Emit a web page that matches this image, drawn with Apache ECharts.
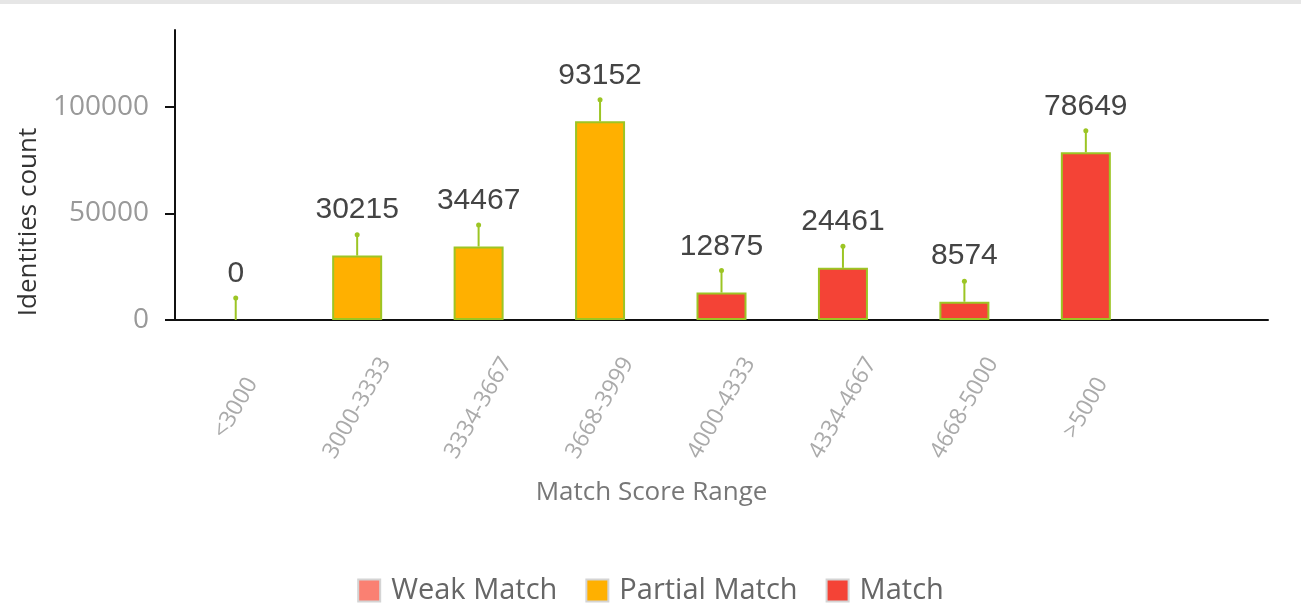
<!DOCTYPE html>
<html>
<head>
<meta charset="utf-8">
<script src="https://cdn.jsdelivr.net/npm/echarts@6/dist/echarts.min.js"></script>
<style>
html,body{margin:0;padding:0;background:#fff;}
#main{width:1301px;height:606px;}
</style>
</head>
<body>
<div id="main"></div>
<script>
const categories = ['<3000','3000-3333','3334-3667','3668-3999','4000-4333','4334-4667','4668-5000','>5000',''];
const weakMatch    = [0,'-','-','-','-','-','-','-','-'];
const partialMatch = ['-',30215,34467,93152,'-','-','-','-','-'];
const match        = ['-','-','-','-',12875,24461,8574,78649,'-'];
const totals       = [0,30215,34467,93152,12875,24461,8574,78649];
const whiskerTop   = [10300,40000,44600,103300,23200,34600,18200,88700];
const yTicks = [0,50000,100000];

const chart = echarts.init(document.getElementById('main'));
const barBorder = '#9cc524';
const labelCfg = {show:true, position:'top', distance:31, color:'#444', fontSize:30, fontFamily:'Liberation Sans, Arial, sans-serif'};
function barSeries(name, data, color, bw){
  return {
    name, type:'bar', data, barWidth:50, barGap:'-100%',
    itemStyle:{color, borderColor:barBorder, borderWidth:bw},
    label:labelCfg
  };
}
chart.setOption({
  animation:false,
  graphic:[{type:'rect', left:0, top:0, shape:{width:1301, height:4}, style:{fill:'#e6e6e6'}}],
  grid:{left:175, right:33, top:30, bottom:286},
  legend:{
    data:['Weak Match','Partial Match','Match'],
    top:571, left:'center',
    itemWidth:22, itemHeight:22, itemGap:28,
    icon:'rect',
    itemStyle:{borderColor:'#d4d4d4', borderWidth:2},
    textStyle:{color:'#666', fontSize:29, fontFamily:'Open Sans', padding:[0,0,0,6]}
  },
  xAxis:{
    type:'category', data:categories,
    name:'Match Score Range', nameLocation:'middle', nameGap:160,
    nameTextStyle:{color:'#777', fontSize:26, fontFamily:'Open Sans', padding:[0,140,0,0]},
    axisLine:{lineStyle:{color:'#111', width:2}},
    axisTick:{alignWithLabel:true, length:9, lineStyle:{color:'#111', width:2}, interval:(i)=> i < 8},
    axisLabel:{interval:0, rotate:60, align:'center', verticalAlign:'middle', margin:88, color:'#aaa', fontSize:23, fontFamily:'Open Sans'}
  },
  yAxis:{
    type:'value', min:0, max:136000,
    name:'Identities count', nameLocation:'middle', nameGap:132,
    nameTextStyle:{color:'#333', fontSize:26, fontFamily:'Open Sans', padding:[0,94,0,0]},
    axisLine:{show:true, lineStyle:{color:'#111', width:2}},
    axisTick:{show:true, length:10, lineStyle:{color:'#111', width:2}, customValues:yTicks},
    axisLabel:{color:'#999', fontSize:28, fontFamily:'Open Sans', margin:26, customValues:yTicks, formatter:(v)=>String(v)},
    splitLine:{show:false}
  },
  series:[
    barSeries('Weak Match', weakMatch, '#fa8072', 0),
    barSeries('Partial Match', partialMatch, '#ffb000', 2),
    barSeries('Match', match, '#f44336', 2),
    {
      name:'whisker', type:'custom', z:5,
      data: totals.map((v,i)=>[i, v, whiskerTop[i]]),
      renderItem:(params, api)=>{
        const b = api.coord([api.value(0), api.value(1)]);
        const t = api.coord([api.value(0), api.value(2)]);
        return {type:'group', children:[
          {type:'line', shape:{x1:b[0], y1:b[1], x2:t[0], y2:t[1]}, style:{stroke:'#9cc524', lineWidth:2}},
          {type:'circle', shape:{cx:t[0], cy:t[1], r:2.5}, style:{fill:'#9cc524'}}
        ]};
      }
    }
  ]
});
</script>
</body>
</html>
